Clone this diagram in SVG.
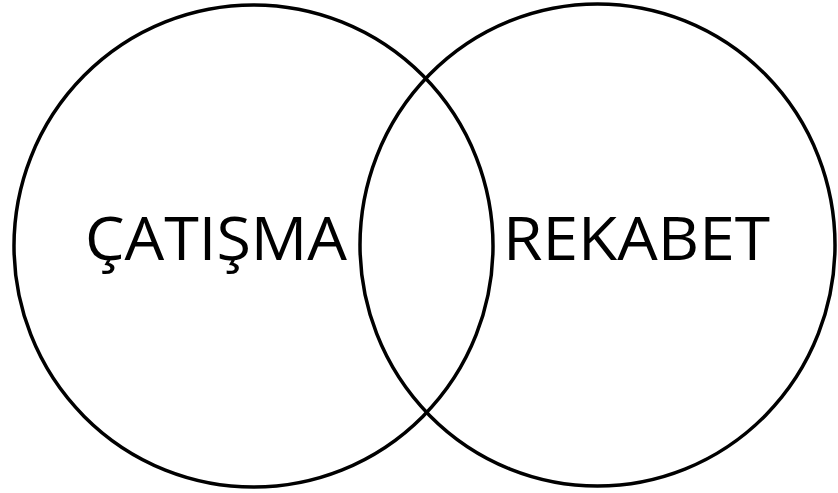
<svg xmlns="http://www.w3.org/2000/svg" width="838" height="493" viewBox="0 0 838 493">
<style>
.c{fill:none;stroke:#000;stroke-width:3.5}
.t{font-family:"Open Sans","Noto Sans",sans-serif;font-size:60px;fill:#000}
</style>
<rect width="838" height="493" fill="#fff"/>
<g id="catisma">
<ellipse class="c" cx="253.5" cy="246" rx="239.5" ry="241"/>
<text class="t" x="85" y="260" textLength="262" lengthAdjust="spacingAndGlyphs">ÇATIŞMA</text>
</g>
<g id="rekabet">
<ellipse class="c" cx="597.5" cy="245" rx="237.5" ry="241"/>
<text class="t" x="503" y="260" textLength="267" lengthAdjust="spacingAndGlyphs">REKABET</text>
</g>
<g id="connectors"></g>
</svg>
